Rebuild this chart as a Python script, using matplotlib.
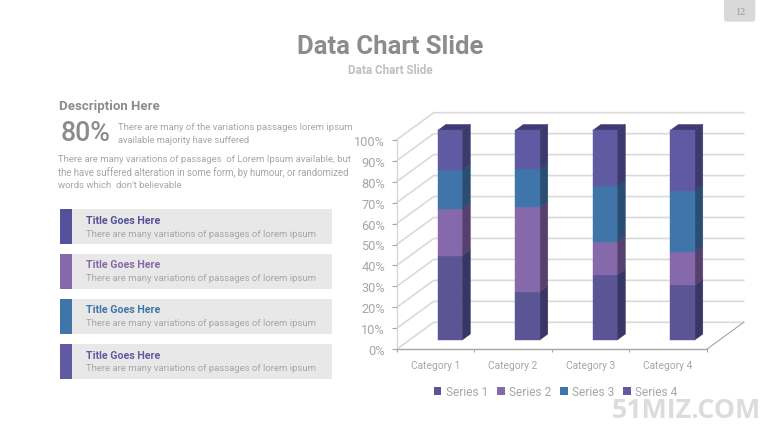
import matplotlib
matplotlib.use("Agg")
import matplotlib.pyplot as plt
from matplotlib.patches import Polygon, Rectangle, FancyBboxPatch, Patch
import numpy as np

plt.rcParams['font.family'] = ['Roboto', 'DejaVu Sans']

categories = ['Category 1', 'Category 2', 'Category 3', 'Category 4']
series_names = ['Series 1', 'Series 2', 'Series 3', 'Series 4']
series_1 = [4.3, 2.5, 3.5, 4.5]
series_2 = [2.4, 4.4, 1.8, 2.8]
series_3 = [2.0, 2.0, 3.0, 5.0]
series_4 = [2.0, 2.0, 3.0, 5.0]
y_ticks = [0, 10, 20, 30, 40, 50, 60, 70, 80, 90, 100]
front_colors = ['#5B5595', '#8669AA', '#3F75A9', '#5F5AA2']
side_colors = ['#383665', '#56406D', '#2A4D72', '#3C3A6C']
top_color = '#3E3A72'
GRID = '#DADADA'

W, H = 780, 439
fig = plt.figure(figsize=(W / 100, H / 100), dpi=100, facecolor='white')

bg = fig.add_axes([0, 0, 1, 1])
bg.set_xlim(0, W)
bg.set_ylim(H, 0)
bg.axis('off')


def label(x, y, s, width=None, size=9, color='#A6A6A6', weight='normal', ha='left', family=None):
    t = bg.text(x, y, s, fontsize=size, color=color, fontweight=weight, ha=ha, va='center',
                family=family if family else ['Roboto', 'DejaVu Sans'])
    if width:
        r = fig.canvas.get_renderer()
        w = t.get_window_extent(r).width
        t.set_fontsize(size * width / w)
    return t


bg.add_patch(FancyBboxPatch((724, -10), 31.3, 32.7, boxstyle='round,pad=0,rounding_size=2.5',
                            fc='#D9D9D9', ec='none'))
label(739.8, 12.5, '12', size=7.5, color='#999999', ha='center', family=['Liberation Serif'])
label(390, 46.5, 'Data Chart Slide', width=186, size=18, color='#8C8C8C', weight='bold', ha='center')
label(390, 70, 'Data Chart Slide', width=85, size=8, color='#BFBFBF', weight='bold', ha='center')
label(59, 107, 'Description Here', width=100, size=10, color='#8C8C8C', weight='bold')
label(61, 134, '80%', width=50, size=20, color='#8C8C8C', weight='medium')
label(118, 127.5, 'There are many of the variations passages lorem ipsum', width=234, size=8)
label(118, 140.5, 'available majority have suffered', width=133, size=8)
label(58, 160, 'There are many variations of passages  of Lorem Ipsum available, but', width=293, size=8)
label(58, 172.5, 'the have suffered alteration in some form, by humour, or randomized', width=293, size=8)
label(58, 186, "words which  don't believable", width=124, size=8)

box_tops = [210, 254.5, 299.5, 344.7]
box_colors = ['#55509A', '#8669AA', '#3F75A9', '#5F5AA2']
for top, c in zip(box_tops, box_colors):
    bg.add_patch(Rectangle((60, top), 271.7, 35, fc='#E8E8E8', ec='none'))
    bg.add_patch(Rectangle((60, top), 11.7, 35, fc=c, ec='none'))
    label(86.5, top + 11, 'Title Goes Here', width=74, size=9, color=c, weight='bold')
    label(86.5, top + 24.3, 'There are many variations of passages of lorem ipsum', width=229, size=8)

label(612, 411, '51MIZ.COM', width=150, size=20, color='#DCDCDC', weight='bold',
      family=['Open Sans', 'DejaVu Sans'])

x0, x1, y_bottom, y_top = 396.7, 706.7, 350.3, 140.7
ax = fig.add_axes([x0 / W, 1 - y_bottom / H, (x1 - x0) / W, (y_bottom - y_top) / H])
ax.set_xlim(0, len(categories))
ax.set_ylim(0, 100)
ax.patch.set_alpha(0)

unit_x = (x1 - x0) / len(categories)
unit_y = (y_bottom - y_top) / 100
DX = 37 / unit_x
DY = 27 / unit_y


def proj(x, y, d):
    return (x + d * DX, y + d * DY)


def poly(points, **kw):
    ax.add_patch(Polygon([proj(*p) for p in points], closed=True, clip_on=False, **kw))


for v in y_ticks:
    a = proj(0, v, 0)
    b = proj(0, v, 1)
    c = proj(len(categories), v, 1)
    ax.plot([a[0], b[0], c[0]], [a[1], b[1], c[1]], color=GRID, lw=1.2, clip_on=False, zorder=1)
a = proj(len(categories), 0, 0)
b = proj(len(categories), 0, 1)
ax.plot([a[0], b[0]], [a[1], b[1]], color='#A6A6A6', lw=0.8, clip_on=False, zorder=1)

data = np.array([series_1, series_2, series_3, series_4], dtype=float)
pct = data / data.sum(axis=0) * 100
bottoms = np.vstack([np.zeros(len(categories)), np.cumsum(pct, axis=0)])
BAR_W = 0.315
BAR_SHIFT = 0.022
D0, D1 = 0.345, 0.565
for i in range(len(categories)):
    xl = i + 0.5 + BAR_SHIFT - BAR_W / 2
    xr = xl + BAR_W
    for s in range(len(series_names)):
        lo, hi = bottoms[s, i], bottoms[s + 1, i]
        poly([(xr, lo, D0), (xr, lo, D1), (xr, hi, D1), (xr, hi, D0)],
             fc=side_colors[s], ec=side_colors[s], lw=0.4, zorder=3)
        poly([(xl, lo, D0), (xr, lo, D0), (xr, hi, D0), (xl, hi, D0)],
             fc=front_colors[s], ec=front_colors[s], lw=0.3, zorder=4)
    poly([(xl, 100, D0), (xr, 100, D0), (xr, 100, D1), (xl, 100, D1)],
         fc=top_color, ec=top_color, lw=0.3, zorder=3)

for sp in ('top', 'right'):
    ax.spines[sp].set_visible(False)
ax.spines['left'].set_color('#D5D5E0')
ax.spines['left'].set_linewidth(0.9)
ax.spines['bottom'].set_color('#A6A6A6')
ax.spines['bottom'].set_linewidth(1.0)
ax.set_yticks(y_ticks)
ax.set_yticklabels([f'{v}%' for v in y_ticks])
ax.tick_params(axis='y', length=3.5, width=0.8, color='#A6A6A6', labelcolor='#A6A6A6', labelsize=9.2, pad=5)
ax.set_xticks(range(len(categories) + 1))
ax.set_xticklabels([])
ax.set_xticks(np.arange(len(categories)) + 0.5, minor=True)
ax.set_xticklabels(categories, minor=True)
ax.tick_params(axis='x', which='major', length=2.5, width=0.8, color='#A6A6A6')
ax.tick_params(axis='x', which='minor', length=0, labelcolor='#A6A6A6', labelsize=7.4, pad=7.5)

handles = [Patch(fc=c, ec='none', label=n) for c, n in zip(front_colors, series_names)]
ax.legend(handles=handles, ncol=4, frameon=False, loc='center', fontsize=8.6,
          bbox_to_anchor=((555.5 - x0) / (x1 - x0), (y_bottom - 392.5) / (y_bottom - y_top)),
          handlelength=0.65, handleheight=0.65, handletextpad=0.35, columnspacing=0.75, labelcolor='#A6A6A6',
          borderpad=0, borderaxespad=0)

fig.savefig('out.png', dpi=100, facecolor='white')
